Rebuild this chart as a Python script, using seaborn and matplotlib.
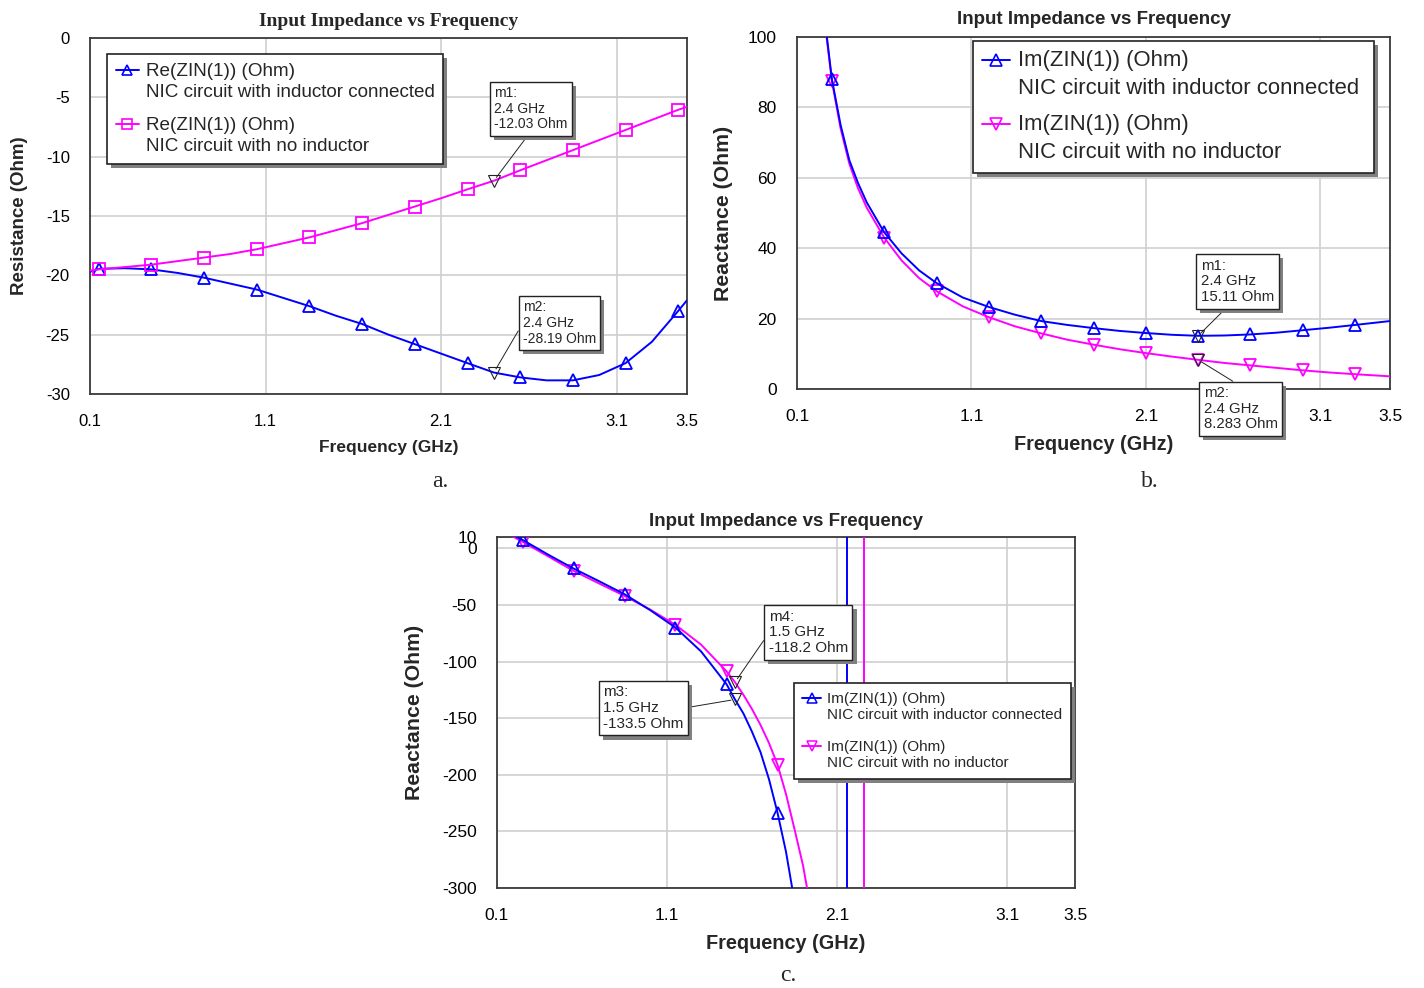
import numpy as np
import pandas as pd
import matplotlib
matplotlib.use("Agg")
import matplotlib.pyplot as plt
import seaborn as sns
from matplotlib.lines import Line2D
from matplotlib.legend_handler import HandlerLine2D
import matplotlib.patheffects as pe

# ---------------- data ----------------
x_ticks = [0.1, 1.1, 2.1, 3.1, 3.5]

# (a) real part
freq_a = [0.1, 0.15, 0.3, 0.45, 0.6, 0.75, 0.9, 1.05, 1.2, 1.35, 1.5, 1.65, 1.8,
          1.95, 2.1, 2.25, 2.4, 2.55, 2.7, 2.85, 3.0, 3.15, 3.3, 3.45, 3.5]
re_ind_a = [-19.7, -19.45, -19.4, -19.5, -19.8, -20.2, -20.7, -21.2, -21.9, -22.6,
            -23.4, -24.1, -25.0, -25.8, -26.6, -27.4, -28.19, -28.6, -28.85, -28.85,
            -28.4, -27.4, -25.6, -23.0, -22.1]
re_noind_a = [-19.6, -19.5, -19.3, -19.1, -18.8, -18.5, -18.2, -17.8, -17.3, -16.8,
              -16.2, -15.6, -14.9, -14.2, -13.5, -12.75, -12.03, -11.15, -10.3, -9.45,
              -8.6, -7.75, -6.9, -6.05, -5.8]
marker_freq_a = [0.15, 0.45, 0.75, 1.05, 1.35, 1.65, 1.95, 2.25, 2.55, 2.85, 3.15, 3.45]
yticks_a = [0, -5, -10, -15, -20, -25, -30]

# (b) imaginary part
freq_b = [0.25, 0.3, 0.35, 0.4, 0.45, 0.5, 0.6, 0.7, 0.8, 0.9, 1.05, 1.2, 1.35, 1.5,
          1.65, 1.8, 1.95, 2.1, 2.25, 2.4, 2.55, 2.7, 2.85, 3.0, 3.15, 3.3, 3.5]
im_ind_b = [109, 88, 75, 65, 58.5, 53, 44.5, 38.5, 33.7, 30.1, 26, 23.3, 21.1, 19.3,
            18.2, 17.3, 16.5, 15.9, 15.4, 15.11, 15.2, 15.5, 16.0, 16.7, 17.4, 18.2, 19.3]
im_noind_b = [108, 87.5, 74, 64, 57, 51.5, 43, 36.5, 31.5, 27.8, 23.5, 20.4, 17.8, 15.8,
              14.0, 12.6, 11.3, 10.2, 9.2, 8.283, 7.4, 6.7, 6.0, 5.3, 4.7, 4.2, 3.6]
marker_freq_b = [0.3, 0.6, 0.9, 1.2, 1.5, 1.8, 2.1, 2.4, 2.7, 3.0, 3.3]
yticks_b = [0, 20, 40, 60, 80, 100]

# (c) imaginary part
freq_c_ind = [0.15, 0.25, 0.4, 0.55, 0.7, 0.85, 1.0, 1.15, 1.3, 1.45, 1.5, 1.55, 1.6,
              1.65, 1.7, 1.75, 1.8, 1.85]
im_ind_c = [15, 7.5, -5.5, -17.8, -29, -40.5, -54.5, -70, -91, -120, -133.5, -146, -162,
            -180, -204, -233.5, -268, -312]
freq_c_noind = [0.15, 0.25, 0.4, 0.55, 0.7, 0.85, 1.0, 1.15, 1.3, 1.45, 1.5, 1.55, 1.6,
                1.65, 1.7, 1.75, 1.8, 1.85, 1.9, 1.95]
im_noind_c = [14, 5.8, -7, -19.9, -31, -42, -54, -67.6, -85, -108.6, -118.2, -129.5, -142,
              -156, -172, -191, -217, -248, -280, -322]
marker_freq_c = [0.25, 0.55, 0.85, 1.15, 1.45, 1.75]
pole_freq_c = [2.157, 2.26]  # reactance jumps (inductor, no inductor)
yticks_c = [10, 0, -50, -100, -150, -200, -250, -300]

# marker read-outs
mk_a = [("m1", 2.4, -12.03), ("m2", 2.4, -28.19)]
mk_b = [("m1", 2.4, 15.11), ("m2", 2.4, 8.283)]
mk_c = [("m3", 1.5, -133.5), ("m4", 1.5, -118.2)]

label_re = "Re(ZIN(1)) (Ohm)"
label_im = "Im(ZIN(1)) (Ohm)"
label_ind = "NIC circuit with inductor connected"
label_noind = "NIC circuit with no inductor"
title = "Input Impedance vs Frequency"

BLUE = "#0000ff"
MAG = "#ff00ff"

# ---------------- style ----------------
sns.set_style("white")
plt.rcParams["font.family"] = ["Liberation Sans", "DejaVu Sans"]

fig = plt.figure(figsize=(14.24, 9.88), dpi=100)
W, H = 1424, 988


def add_axes(l, r, t, b):
    return fig.add_axes([l / W, 1 - b / H, (r - l) / W, (b - t) / H])


ax_a = add_axes(90, 687, 38, 394)
ax_b = add_axes(797, 1390, 37, 389)
ax_c = add_axes(497, 1075, 537, 888)


def every(freq, mfreq):
    return [i for i, f in enumerate(freq) if any(abs(f - m) < 1e-9 for m in mfreq)]


def draw(ax, freq, vals, color, marker, mfreq, ms):
    df = pd.DataFrame({"f": freq, "v": vals})
    sns.lineplot(data=df, x="f", y="v", ax=ax, color=color, lw=1.4, marker=marker,
                 markevery=every(freq, mfreq), ms=ms, mfc="none", mec=color, mew=1.3,
                 legend=False, sort=True, zorder=3)


class TopHandler(HandlerLine2D):
    def __init__(self, ls=1.2, **kw):
        super().__init__(**kw)
        self.ls = ls

    def create_artists(self, legend, orig_handle, xdescent, ydescent, width, height,
                       fontsize, trans):
        return super().create_artists(legend, orig_handle, xdescent,
                                      ydescent - 0.95 * self.ls * fontsize, width, height,
                                      fontsize, trans)


def style_axes(ax, yticks, ylim, ylabel, tsize, lsize, ylabpad, tfamily, tpad):
    ax.set_xlim(0.1, 3.5)
    ax.set_ylim(*ylim)
    ax.set_xticks(x_ticks)
    ax.set_xticklabels([f"{t:g}" for t in x_ticks])
    ax.set_yticks(yticks)
    ax.set_yticklabels([f"{t:g}" for t in yticks])
    ax.grid(True, color="#cfcfcf", lw=1.2, zorder=0)
    ax.tick_params(axis="x", length=0, labelsize=tsize, pad=14.5, colors="black")
    ax.tick_params(axis="y", length=0, labelsize=tsize, pad=14.5, colors="black")
    for s in ax.spines.values():
        s.set_color("#3a3a3a")
        s.set_linewidth(1.3)
    ax.set_xlabel("Frequency (GHz)", fontsize=lsize, fontweight="bold", labelpad=7.5)
    ax.set_ylabel(ylabel, fontsize=lsize + 1, fontweight="bold", labelpad=ylabpad)
    ax.set_title(title, fontsize=14 if tfamily == "Liberation Serif" else 13.5,
                 fontweight="bold", family=tfamily, pad=tpad)


def legend(ax, handles, labels, fs, loc, anchor, lab_sp, line_sp, bpad):
    leg = ax.legend(handles, labels, loc=loc, bbox_to_anchor=anchor, borderaxespad=0,
                    fontsize=fs, frameon=True, fancybox=False, handlelength=1.25,
                    handletextpad=0.35, labelspacing=lab_sp, borderpad=bpad,
                    handler_map={Line2D: TopHandler(ls=line_sp)})
    for t in leg.get_texts():
        t.set_linespacing(line_sp)
    fr = leg.get_frame()
    fr.set_edgecolor("#222222")
    fr.set_linewidth(1.2)
    fr.set_alpha(1)
    fr.set_path_effects([pe.SimplePatchShadow(offset=(3, -3), shadow_rgbFace=(0.5, 0.5, 0.5),
                                              alpha=1.0), pe.Normal()])
    leg.set_zorder(6)
    return leg


def marker_box(ax, name, fx, fy, txt_xy, relpos, fs):
    ax.plot([fx], [fy], marker="v", ms=8, mfc="none", mec="#222222", mew=0.8,
            ls="none", zorder=5)
    ann = ax.annotate(f"{name}:\n{fx:g} GHz\n{fy:g} Ohm", xy=(fx, fy), xytext=txt_xy,
                      textcoords="axes fraction", ha="left", va="top", fontsize=fs,
                      linespacing=1.15, annotation_clip=False, zorder=7,
                      bbox=dict(boxstyle="square,pad=0.3", fc="white", ec="#222222", lw=1),
                      arrowprops=dict(arrowstyle="-", color="#222222", lw=0.7,
                                      relpos=relpos, shrinkA=0, shrinkB=3))
    ann.get_bbox_patch().set_path_effects(
        [pe.SimplePatchShadow(offset=(3, -3), shadow_rgbFace=(0.5, 0.5, 0.5), alpha=1.0),
         pe.Normal()])


# ---------------- panel a ----------------
draw(ax_a, freq_a, re_ind_a, BLUE, "^", marker_freq_a, 9)
draw(ax_a, freq_a, re_noind_a, MAG, "s", marker_freq_a, 9)
style_axes(ax_a, yticks_a, (-30, 0), "Resistance (Ohm)", 12, 12.5, 13, "Liberation Serif", 9)
h1 = Line2D([], [], color=BLUE, lw=1.4, marker="^", ms=7, mfc="none", mec=BLUE, mew=1.2)
h2 = Line2D([], [], color=MAG, lw=1.4, marker="s", ms=7, mfc="none", mec=MAG, mew=1.2)
legend(ax_a, [h1, h2], [f"{label_re}\n{label_ind}", f"{label_re}\n{label_noind}"],
       13.6, "upper left", (0.0285, 0.955), 0.85, 1.33, 0.45)
marker_box(ax_a, *mk_a[0], (0.677, 0.865), (0.5, 0), 10)
marker_box(ax_a, *mk_a[1], (0.725, 0.263), (0, 0.5), 10)

# ---------------- panel b ----------------
draw(ax_b, freq_b, im_noind_b, MAG, "v", marker_freq_b, 9)
draw(ax_b, freq_b, im_ind_b, BLUE, "^", marker_freq_b, 9)
style_axes(ax_b, yticks_b, (0, 100), "Reactance (Ohm)", 12.5, 14.3, 11, "Liberation Sans", 9)
h1 = Line2D([], [], color=BLUE, lw=1.4, marker="^", ms=8, mfc="none", mec=BLUE, mew=1.2)
h2 = Line2D([], [], color=MAG, lw=1.4, marker="v", ms=8, mfc="none", mec=MAG, mew=1.2)
legend(ax_b, [h1, h2], [f"{label_im}\n{label_ind} ", f"{label_im}\n{label_noind}"],
       15.9, "upper left", (0.297, 0.989), 0.7, 1.43, 0.42)
marker_box(ax_b, *mk_b[0], (0.681, 0.37), (0.4, 0), 10.8)
marker_box(ax_b, *mk_b[1], (0.686, 0.008), (0.5, 1), 10.8)

# ---------------- panel c ----------------
for pf, col in zip(pole_freq_c, [BLUE, MAG]):
    ax_c.axvline(pf, color=col, lw=1.4, zorder=3)
draw(ax_c, freq_c_noind, im_noind_c, MAG, "v", marker_freq_c, 9)
draw(ax_c, freq_c_ind, im_ind_c, BLUE, "^", marker_freq_c, 9)
style_axes(ax_c, yticks_c, (-300, 10), "Reactance (Ohm)", 12.5, 14.3, 13, "Liberation Sans", 8)
h1 = Line2D([], [], color=BLUE, lw=1.4, marker="^", ms=6.5, mfc="none", mec=BLUE, mew=1.1)
h2 = Line2D([], [], color=MAG, lw=1.4, marker="v", ms=6.5, mfc="none", mec=MAG, mew=1.1)
legend(ax_c, [h1, h2], [f"{label_im}\n{label_ind}", f"{label_im}\n{label_noind}"],
       11, "upper left", (0.513, 0.584), 1.15, 1.2, 0.58)
marker_box(ax_c, *mk_c[0], (0.184, 0.577), (1, 0.5), 11)
marker_box(ax_c, *mk_c[1], (0.47, 0.793), (0, 0.48), 11)

# captions
for txt, x, y in [("a.", 440, 481), ("b.", 1150, 481), ("c.", 788, 975)]:
    fig.text(x / W, 1 - y / H, txt, family="Liberation Serif", fontsize=17,
             ha="center", va="center")

fig.savefig("out.png", dpi=100)
